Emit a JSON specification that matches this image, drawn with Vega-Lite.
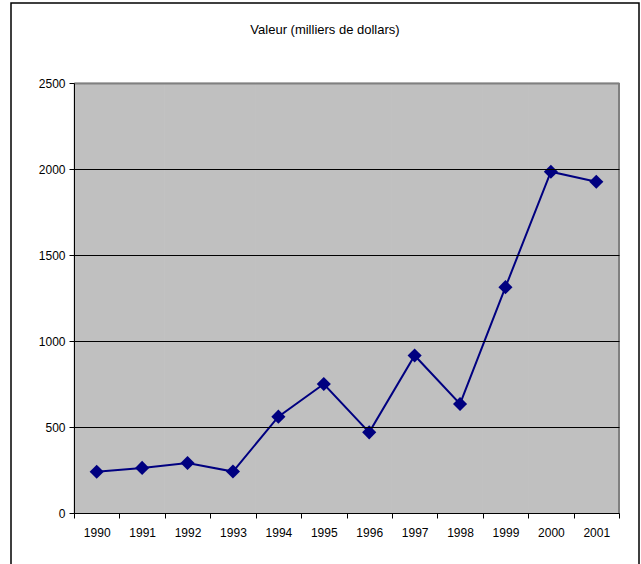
{
  "$schema": "https://vega.github.io/schema/vega-lite/v6.json",
  "width": 628,
  "height": 570,
  "autosize": {"type": "none"},
  "padding": {"left": 11, "top": 3, "right": 2, "bottom": 0},
  "background": "white",
  "config": {
    "view": {"stroke": "black", "strokeWidth": 1.5, "fill": "white"},
    "font": "Liberation Sans"
  },
  "title": {
    "text": "Valeur (milliers de dollars)",
    "fontSize": 13,
    "fontWeight": "normal",
    "font": "Liberation Sans",
    "color": "black",
    "offset": -44,
    "baseline": "alphabetic",
    "anchor": "middle"
  },
  "data": {
    "values": [
      {"year": 1990, "value": 240},
      {"year": 1991, "value": 262},
      {"year": 1992, "value": 291},
      {"year": 1993, "value": 241},
      {"year": 1994, "value": 560},
      {"year": 1995, "value": 750},
      {"year": 1996, "value": 469},
      {"year": 1997, "value": 916},
      {"year": 1998, "value": 634},
      {"year": 1999, "value": 1313},
      {"year": 2000, "value": 1984},
      {"year": 2001, "value": 1926}
    ]
  },
  "encoding": {
    "x": {
      "field": "year",
      "type": "ordinal",
      "scale": {"type": "band", "range": [63, 608], "paddingInner": 0, "paddingOuter": 0},
      "axis": {
        "title": null,
        "labelAngle": 0,
        "tickBand": "extent",
        "domainColor": "black",
        "tickColor": "black",
        "tickSize": 5,
        "labelPadding": 9,
        "labelFontSize": 12,
        "labelColor": "black",
        "labelFont": "Liberation Sans",
        "offset": -60,
        "grid": false,
        "zindex": 1
      }
    },
    "y": {
      "field": "value",
      "type": "quantitative",
      "title": null,
      "scale": {"domain": [0, 2500], "range": [510, 80], "nice": false, "zero": true},
      "axis": {
        "title": null,
        "format": "d",
        "values": [0, 500, 1000, 1500, 2000, 2500],
        "grid": true,
        "gridColor": {"condition": {"test": "datum.value === 2500", "value": "#808080"}, "value": "black"},
        "gridWidth": {"condition": {"test": "datum.value === 2500", "value": 2}, "value": 1},
        "domainColor": "black",
        "tickColor": "black",
        "tickSize": 5,
        "labelPadding": 4,
        "labelFontSize": 12,
        "labelColor": "black",
        "labelFont": "Liberation Sans",
        "offset": -63,
        "zindex": 1
      }
    }
  },
  "layer": [
    {
      "mark": {"type": "rect", "fill": "#c0c0c0", "stroke": "#c0c0c0", "strokeWidth": 1},
      "encoding": {
        "y": {"datum": 0, "type": "quantitative"},
        "y2": {"datum": 2500}
      }
    },
    {
      "mark": {"type": "rule", "stroke": "#808080", "strokeWidth": 2},
      "encoding": {
        "x": {"datum": 2001, "type": "ordinal", "bandPosition": 1},
        "y": {"datum": 0, "type": "quantitative"},
        "y2": {"datum": 2500}
      }
    },
    {
      "mark": {"type": "line", "color": "#000080", "strokeWidth": 2}
    },
    {
      "mark": {"type": "point", "shape": "diamond", "filled": true, "size": 200, "color": "#000080", "opacity": 1}
    }
  ]
}
